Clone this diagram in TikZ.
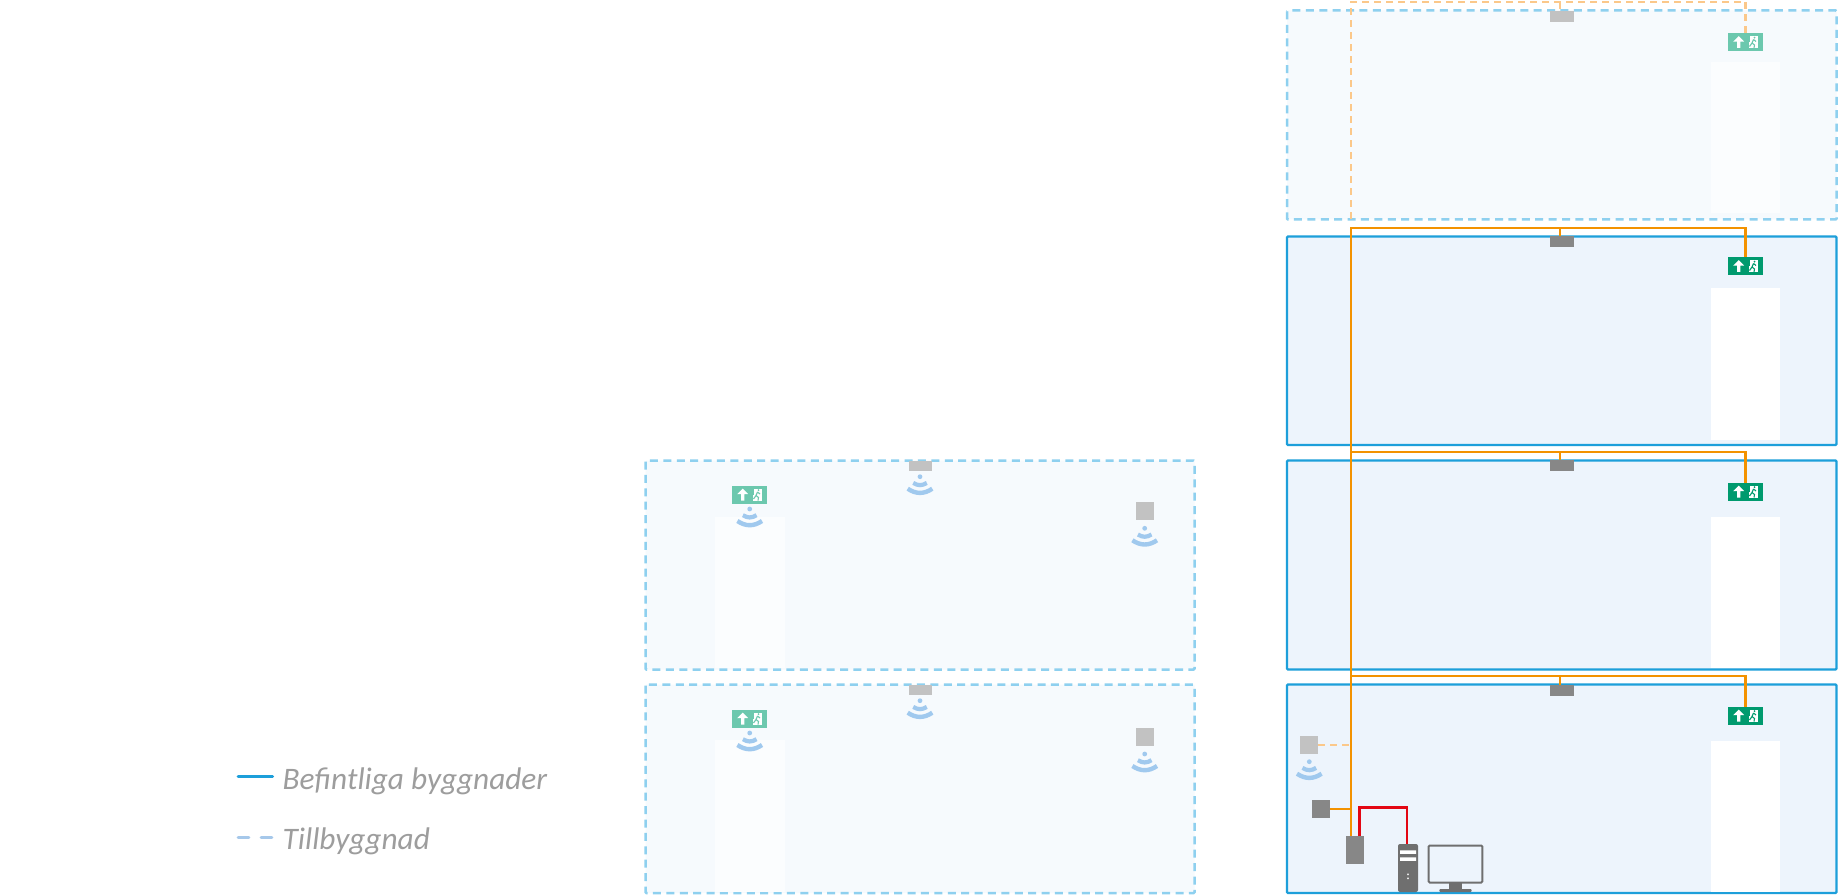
\documentclass[tikz,border=0pt]{standalone}
\usepackage{fontspec}
\setmainfont{Carlito}
\definecolor{bluesolid}{HTML}{1D9FDA}
\definecolor{bluedash}{HTML}{8ED0EF}
\definecolor{fillsolid}{HTML}{EDF4FC}
\definecolor{filldash}{HTML}{F6FAFD}
\definecolor{whitedash}{HTML}{FBFDFE}
\definecolor{orangesolid}{HTML}{F39200}
\definecolor{orangedash}{HTML}{FBC88A}
\definecolor{redline}{HTML}{E30613}
\definecolor{graydark}{HTML}{878787}
\definecolor{graylight}{HTML}{C2C2C2}
\definecolor{pcgray}{HTML}{6F6F6F}
\definecolor{greensolid}{HTML}{009A6E}
\definecolor{greenlight}{HTML}{6CC8AE}
\definecolor{wifiblue}{HTML}{A0C9EE}
\definecolor{legendtext}{HTML}{9D9D9D}
\definecolor{legenddash}{HTML}{A6C8EA}
\tikzset{
  solidbuilding/.style={draw=bluesolid,fill=fillsolid,line width=2.2pt,rounded corners=1pt},
  dashbuilding/.style={draw=bluedash,fill=filldash,line width=2.5pt,rounded corners=1pt,dash pattern=on 8pt off 5.4pt},
  bus/.style={draw=orangesolid,line width=2.3pt},
  busdash/.style={draw=orangedash,line width=2.3pt,dash pattern=on 7pt off 5pt},
  redlink/.style={draw=redline,line width=2.5pt},
  device/.style={rectangle,inner sep=0pt,outer sep=0pt,minimum width=#1},
  legendlabel/.style={anchor=base west,text=legendtext,inner sep=0pt,font=\itshape\fontsize{31.3}{31.3}\selectfont},
}
% name, centre x, centre y, colour
\newcommand{\exitsign}[4]{%
  \node[device=35pt,minimum height=18pt,fill=#4] (#1) at (#2,#3) {};
  \begin{scope}[shift={(#2-17.5,#3-9)}]
    \fill[white] (10.7,3.2) -- (16.2,8.7) -- (12.3,8.7) -- (12.3,15) -- (9.1,15) -- (9.1,8.7) -- (5.2,8.7) -- cycle;
    \fill[white] (20.5,3) rectangle (30,15);
    \draw[#4,line width=1.1pt] (25.5,6.5) -- (24,10) -- (26.5,12) -- (26,15) (24,10) -- (21.5,13.5) (25.5,6.5) -- (28,8.5);
    \fill[#4] (26.5,4.6) circle (1pt);
    \draw[#4,line width=.7pt] (21.5,3.5) -- (21.5,9);
  \end{scope}}
% centre x, dot y
\newcommand{\wifi}[2]{%
  \fill[wifiblue] (#1,#2) circle (2.4pt);
  \draw[wifiblue,line width=4.4pt] ({#1-12.3},{#2+12}) .. controls ({#1-4},{#2+17.6}) and ({#1+4},{#2+17.6}) .. ({#1+12.3},{#2+12});
  \draw[wifiblue,line width=4.2pt] ({#1-6.8},{#2+6.2}) .. controls ({#1-2},{#2+9.2}) and ({#1+2},{#2+9.2}) .. ({#1+6.8},{#2+6.2});}
\begin{document}
\begin{tikzpicture}[x=1pt,y=-1pt]
\useasboundingbox[fill=white] (0,0) rectangle (1840,896);
% buildings
\draw[dashbuilding] (1287,10.5) rectangle (1836.5,219.5);
\draw[solidbuilding] (1287,236.5) rectangle (1836.5,445);
\draw[solidbuilding] (1287,460.5) rectangle (1836.5,669.5);
\draw[solidbuilding] (1287,684.5) rectangle (1836.5,893);
\draw[dashbuilding] (645.5,460.5) rectangle (1194.5,669.5);
\draw[dashbuilding] (645.5,684.5) rectangle (1194.5,893);
% stairwells
\fill[whitedash] (1711,62) rectangle (1780,213);
\fill[white] (1711,288) rectangle (1780,440);
\fill[white] (1711,516.5) rectangle (1780,668);
\fill[white] (1711,740.5) rectangle (1780,892);
\fill[whitedash] (715,516.5) rectangle (785,668);
\fill[whitedash] (715,740) rectangle (785,892);
% devices, right
\node[device=24pt,minimum height=11pt,fill=graylight] (s1) at (1562,16.5) {};
\node[device=24pt,minimum height=11pt,fill=graydark] (s2) at (1562,241.5) {};
\node[device=24pt,minimum height=11pt,fill=graydark] (s3) at (1562,465.5) {};
\node[device=24pt,minimum height=11pt,fill=graydark] (s4) at (1562,690) {};
\exitsign{e1}{1745.5}{42}{greenlight}
\exitsign{e2}{1745.5}{266}{greensolid}
\exitsign{e3}{1745.5}{491.5}{greensolid}
\exitsign{e4}{1745.5}{715.5}{greensolid}
\node[device=18pt,minimum height=18pt,fill=graylight] (wl) at (1309.2,745) {};
\node[device=18pt,minimum height=18pt,fill=graydark] (dk) at (1321.3,808.7) {};
\node[device=18pt,minimum height=28pt,fill=graydark] (ctrl) at (1355,850) {};
\wifi{1309.3}{761.7}
% computer
\node[device=20pt,minimum height=48pt,fill=pcgray,rounded corners=2pt] (pc) at (1408,868) {};
\fill[white] (1400,850.3) rectangle (1416,853.8) (1400,857.3) rectangle (1416,860.8);
\fill[white!80!pcgray] (1407.2,873.5) rectangle (1408.8,875) (1407.2,877.5) rectangle (1408.8,879);
\draw[pcgray,line width=2pt,rounded corners=1pt,fill=fillsolid] (1428.7,845.5) rectangle (1482.3,882.5);
\fill[pcgray] (1449,883) rectangle (1462.3,889);
\fill[pcgray,rounded corners=1pt] (1439.3,889) rectangle (1471.7,892);
% network
\coordinate (t1) at (1351,2);
\coordinate (b1) at (1351,219);
\coordinate (t2) at (1351,228);
\coordinate (t3) at (1351,452);
\coordinate (t4) at (1351,676);
\coordinate (j1) at (1559.7,11);
\coordinate (j2) at (1559.7,236);
\coordinate (j3) at (1559.7,460);
\coordinate (j4) at (1559.7,684.5);
\coordinate (rc) at (1359.3,836);
\coordinate (rp) at (1407,844);
\draw[busdash] (b1) -- (t1) -- (t1 -| e1.north) -- (e1.north);
\draw[busdash] (t1 -| j1) -- (j1);
\draw[bus] (ctrl.north -| t2) -- (t2) -- (t2 -| e2.north) -- (e2.north);
\draw[bus] (t3) -- (t3 -| e3.north) -- (e3.north);
\draw[bus] (t4) -- (t4 -| e4.north) -- (e4.north);
\draw[bus] (t2 -| j2) -- (j2);
\draw[bus] (t3 -| j3) -- (j3);
\draw[bus] (t4 -| j4) -- (j4);
\draw[busdash] (wl.east) -- (wl.east -| t2);
\draw[bus] (dk.east) -- (dk.east -| t2);
\draw[redlink] (rc) -- (1359.3,807.5) -- (1407,807.5) -- (rp);
% left buildings
\exitsign{e5}{749.5}{494.5}{greenlight}
\exitsign{e6}{749.5}{718.5}{greenlight}
\wifi{749.7}{509}
\wifi{749.7}{733}
\node[device=23pt,minimum height=10.5pt,fill=graylight] (s5) at (920.2,466.2) {};
\node[device=23pt,minimum height=10.5pt,fill=graylight] (s6) at (920.2,690.2) {};
\wifi{920}{476.7}
\wifi{920}{700.7}
\node[device=18pt,minimum height=18pt,fill=graylight] (q1) at (1144.7,510.5) {};
\node[device=18pt,minimum height=18pt,fill=graylight] (q2) at (1144.7,736.5) {};
\wifi{1144.7}{528.3}
\wifi{1144.7}{754}
% legend
\coordinate (la) at (238,776.7);
\coordinate (lb) at (272.7,776.7);
\coordinate (lc) at (238,837.7);
\coordinate (ld) at (272.7,837.7);
\draw[bluesolid,line width=2.8pt,line cap=round] (la) -- (lb);
\draw[legenddash,line width=2.8pt,line cap=round,dash pattern=on 11pt off 12pt] (lc) -- (ld);
\node[legendlabel] (t_a) at (282.5,789) {Befintliga byggnader};
\node[legendlabel] (t_b) at (282.5,849) {Tillbyggnad};
\end{tikzpicture}
\end{document}
